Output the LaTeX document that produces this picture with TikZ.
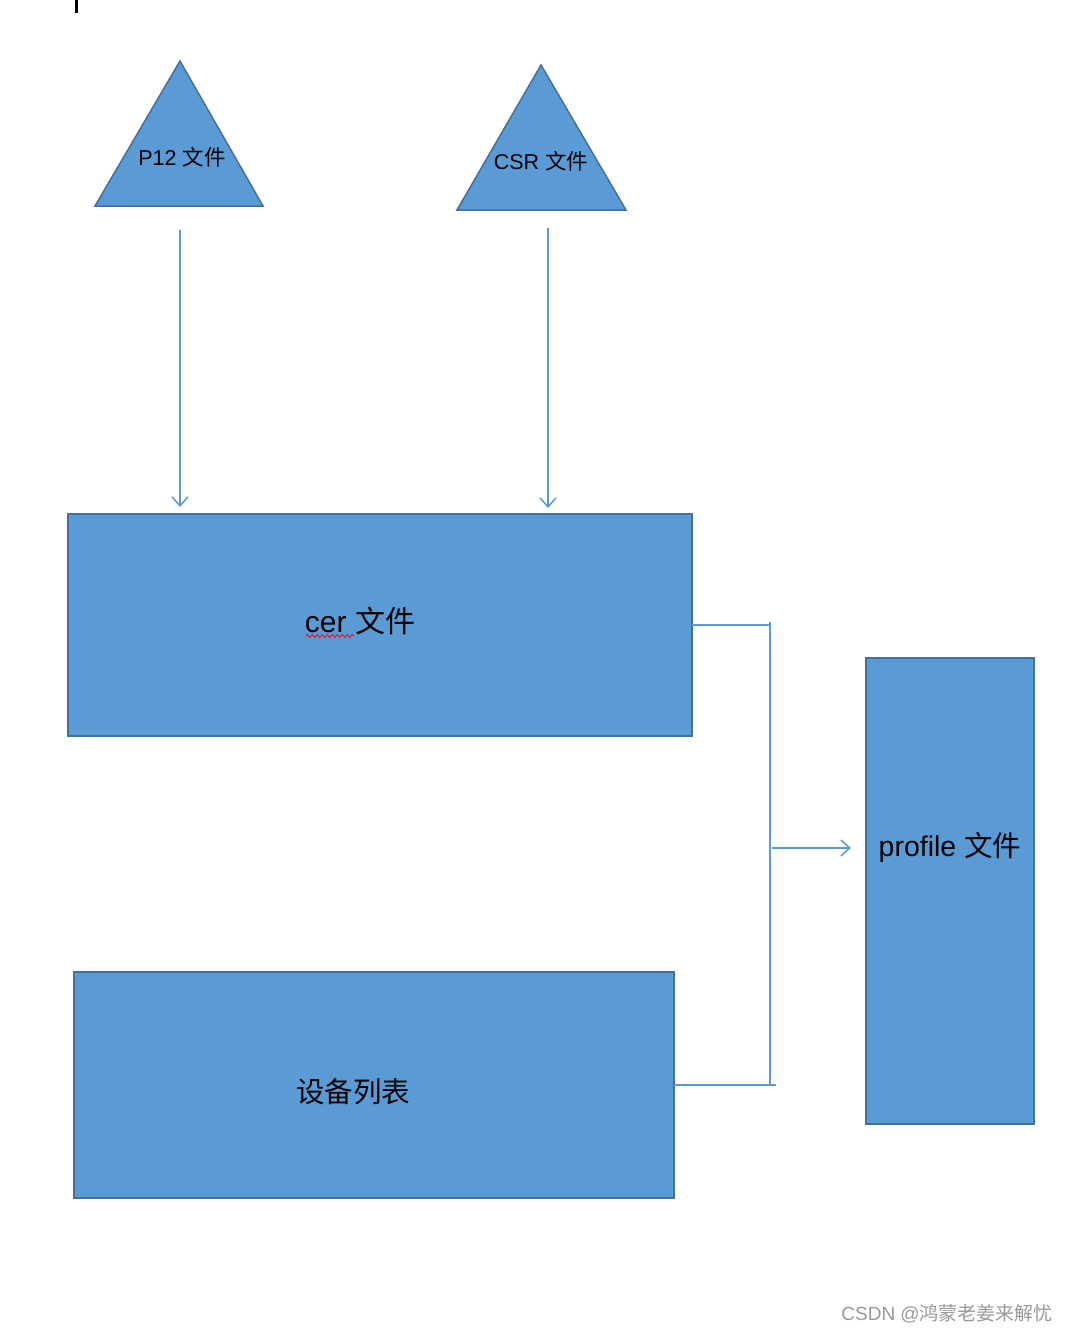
\documentclass[tikz,border=0pt]{standalone}
\usepackage{fontspec}
\setmainfont{Liberation Sans}
\newfontfamily\cjk{Noto Sans CJK SC}
\usetikzlibrary{arrows.meta,decorations.pathmorphing}
\definecolor{boxfill}{HTML}{5B9BD5}
\definecolor{boxline}{HTML}{41719C}
\definecolor{wire}{HTML}{5B9BD5}
\tikzset{
  shapebox/.style={fill=boxfill,draw=boxline,line width=1.5pt},
  wireline/.style={draw=wire,line width=1.5pt},
  arrowline/.style={wireline,-{Straight Barb[length=9pt,width=16pt,line width=1.5pt]}},
  smalltext/.style={font=\fontsize{21.5}{26}\selectfont,inner sep=0pt},
  bigtext/.style={font=\fontsize{28.5}{34}\selectfont,inner sep=0pt},
}
\begin{document}
\begin{tikzpicture}[x=1pt,y=-1pt]
\useasboundingbox (0,0) rectangle (1068,1334);
% cursor mark
\fill[black] (74.5,0) rectangle (77.5,13);
% triangles
\draw[shapebox] (180,61) -- (263,206) -- (95,206) -- cycle;
\node[smalltext] (p12) at (182,157) {P12 {\cjk 文件}};
\draw[shapebox] (541,65) -- (626,210) -- (457,210) -- cycle;
\node[smalltext] (csr) at (541,161) {CSR {\cjk 文件}};
% boxes
\draw[shapebox] (68,514) rectangle (692,736);
\node[inner sep=0pt,minimum width=624pt,minimum height=222pt] (cer) at (380,625) {};
\node[bigtext,font=\fontsize{30}{36}\selectfont] (certext) at (360,621) {cer {\cjk 文件}};
\draw[shapebox] (74,972) rectangle (674,1198);
\node[inner sep=0pt,minimum width=600pt,minimum height=226pt] (dev) at (374,1085) {};
\node[bigtext] (devtext) at (353,1092) {\cjk 设备列表};
\draw[shapebox] (866,658) rectangle (1034,1124);
\node[inner sep=0pt,minimum width=168pt,minimum height=466pt] (prof) at (950,891) {};
\node[bigtext] (proftext) at (950,847) {profile {\cjk 文件}};
% red wavy underline
\coordinate (u1) at (306,636);
\coordinate (u2) at (354,636);
\draw[red,line width=0.7pt,decorate,decoration={zigzag,amplitude=1.6pt,segment length=5pt}] (u1) -- (u2);
% arrows from triangles
\coordinate (a1s) at (180,230);
\coordinate (a1e) at (180,507);
\coordinate (a2s) at (548,228);
\coordinate (a2e) at (548,508);
\draw[arrowline] (a1s) -- (a1e);
\draw[arrowline] (a2s) -- (a2e);
% bracket connector
\coordinate (jt) at (770,622);
\coordinate (jc) at (770,625);
\coordinate (jb) at (770,1085);
\coordinate (jbx) at (776,1085);
\coordinate (js) at (772,848);
\coordinate (je) at (851,848);
\draw[wireline] (cer.east) -- (jc);
\draw[wireline] (jt) -- (jb);
\draw[wireline] (dev.east) -- (jbx);
\draw[arrowline] (js) -- (je);
% watermark
\node[font=\fontsize{19}{23}\selectfont,text=black!40,inner sep=0pt,anchor=east] (wm) at (1053,1314) {CSDN @{\cjk 鸿蒙老姜来解忧}};
\end{tikzpicture}
\end{document}
